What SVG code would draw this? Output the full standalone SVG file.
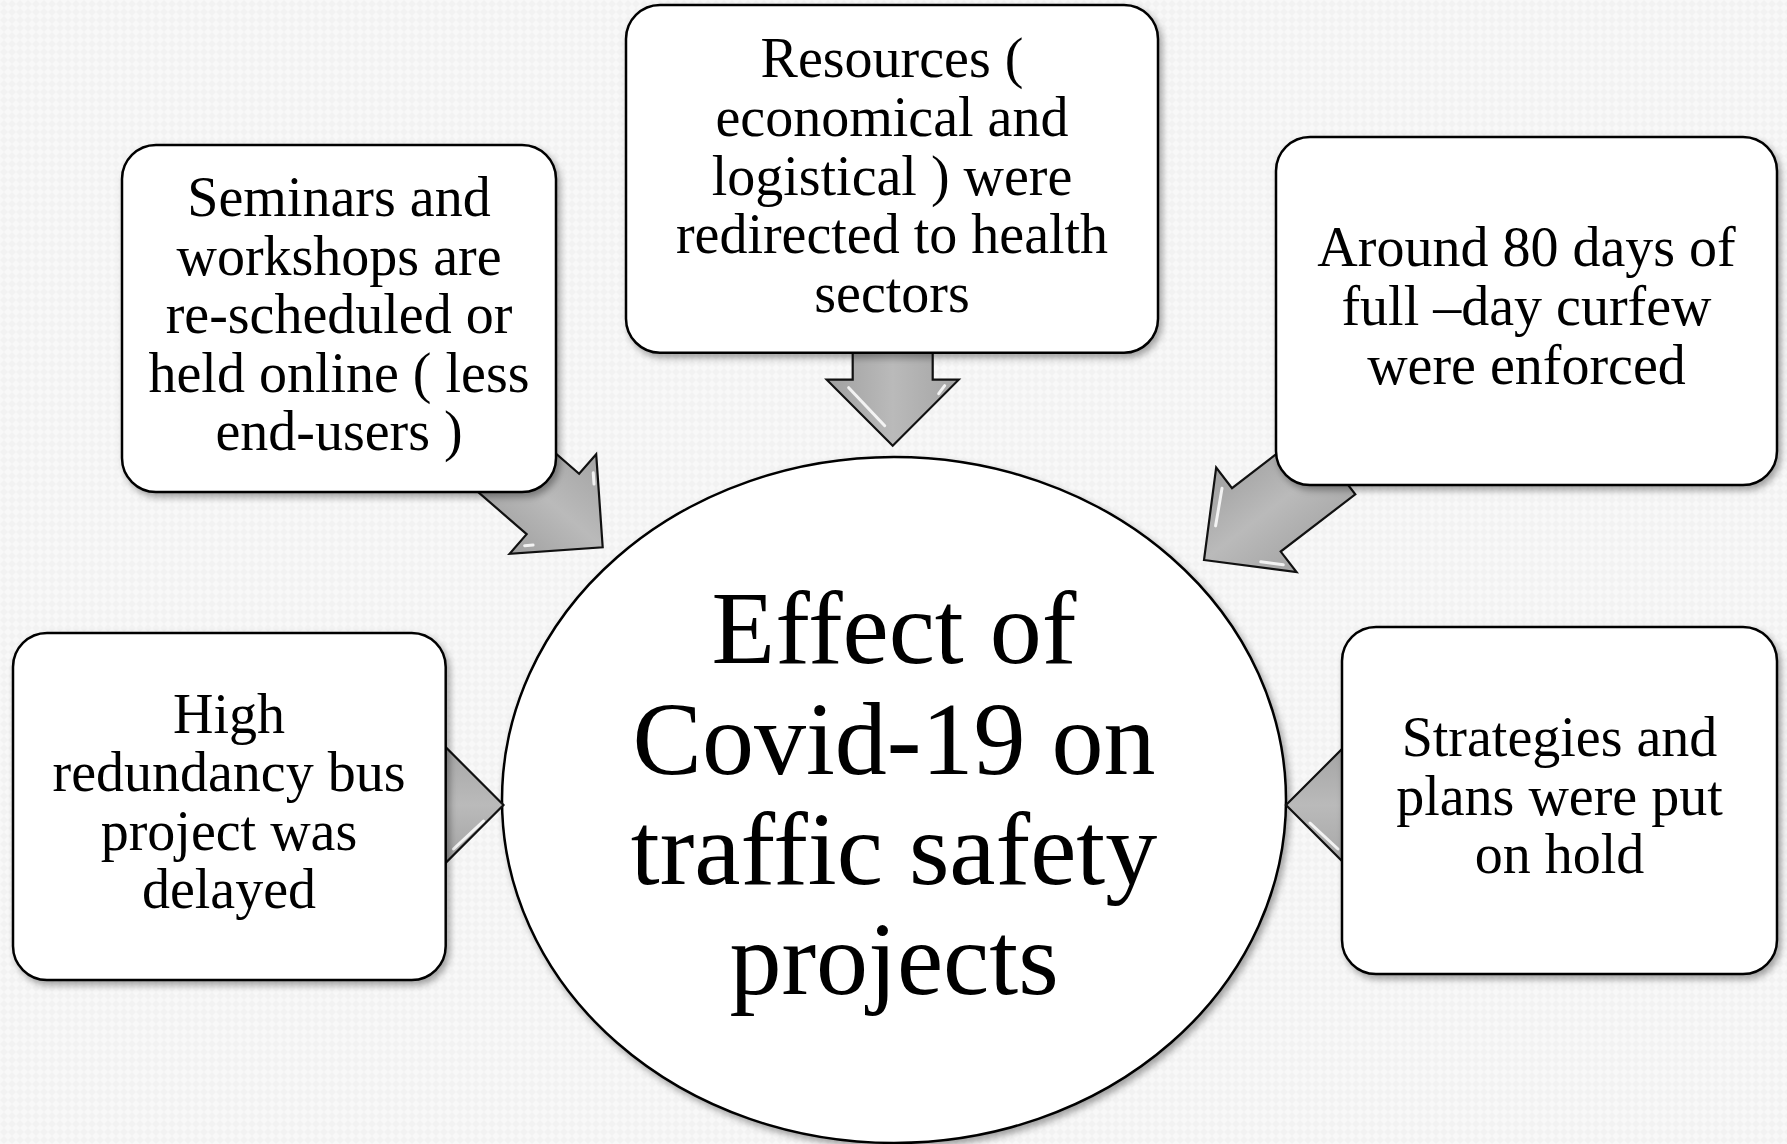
<svg xmlns="http://www.w3.org/2000/svg" width="1787" height="1144" viewBox="0 0 1787 1144">
  <defs>
    <pattern id="bgtex" width="8" height="8" patternUnits="userSpaceOnUse">
      <rect width="8" height="8" fill="#f8f8f8"/>
      <path d="M0,4 L4,0 L8,4 L4,8 Z" fill="#f2f2f2"/>
    </pattern>
    <filter id="shadow" x="-10%" y="-10%" width="125%" height="125%">
      <feDropShadow dx="3" dy="4" stdDeviation="3.5" flood-color="#000" flood-opacity="0.35"/>
    </filter>
    <linearGradient id="arrowGrad" gradientUnits="userSpaceOnUse" x1="0" y1="-66" x2="0" y2="66">
      <stop offset="0" stop-color="#a4a4a4"/>
      <stop offset="0.5" stop-color="#bababa"/>
      <stop offset="1" stop-color="#a0a0a0"/>
    </linearGradient>
    <path id="arrowShape" d="M0,0 L-66,-66 L-66,-40 L-160,-40 L-160,40 L-66,40 L-66,66 Z"/>
  </defs>
  <style>
    .box { fill: #ffffff; stroke: #000000; stroke-width: 2.5; }
    .hub { fill: #ffffff; stroke: #000000; stroke-width: 2.5; }
    .arrow { fill: url(#arrowGrad); stroke: #111111; stroke-width: 2.2; stroke-linejoin: miter; }
    .hl { fill: none; stroke: #ffffff; stroke-width: 3; stroke-opacity: 0.85; stroke-linecap: round; }
    .lbl { font-family: "Liberation Serif", "DejaVu Serif", serif; font-size: 56px; fill: #000000; text-anchor: middle; }
    .hubtxt { font-family: "Liberation Serif", "DejaVu Serif", serif; font-size: 104px; fill: #000000; text-anchor: middle; }
  </style>

  <rect x="0" y="0" width="1787" height="1144" fill="url(#bgtex)"/>

  <g id="hub" filter="url(#shadow)">
    <ellipse class="hub" cx="894" cy="800" rx="392" ry="343"/>
    <text class="hubtxt" x="894" y="663">Effect of</text>
    <text class="hubtxt" x="894" y="774">Covid-19 on</text>
    <text class="hubtxt" x="894" y="884">traffic safety</text>
    <text class="hubtxt" x="894" y="994">projects</text>
  </g>

  <g id="connectors">
    <g transform="translate(892.7,445.7) rotate(90)">
      <use href="#arrowShape" class="arrow"/>
      <path class="hl" d="M-58,44 L-20,8"/>
      <path class="hl" d="M-60,-52 L-52,-46"/>
    </g>
    <g transform="translate(602.7,547.3) rotate(41)">
      <use href="#arrowShape" class="arrow"/>
      <path class="hl" d="M-56,-50 L-48,-42"/>
      <path class="hl" d="M-60,50 L-54,44"/>
    </g>
    <g transform="translate(1204,560) rotate(142.5)">
      <use href="#arrowShape" class="arrow"/>
      <path class="hl" d="M-60,-52 L-44,-36"/>
      <path class="hl" d="M-58,46 L-30,20"/>
    </g>
    <g transform="translate(503.5,805) rotate(0)">
      <use href="#arrowShape" class="arrow"/>
      <path class="hl" d="M-50,44 L-20,16"/>
    </g>
    <g transform="translate(1286,805) rotate(180)">
      <use href="#arrowShape" class="arrow"/>
      <path class="hl" d="M-52,-44 L-24,-18"/>
    </g>
  </g>

  <g id="node-seminars" filter="url(#shadow)">
    <rect class="box" x="122" y="145" width="434" height="347" rx="34" ry="34"/>
    <text class="lbl" x="339" y="216">Seminars and</text>
    <text class="lbl" x="339" y="274.5">workshops are</text>
    <text class="lbl" x="339" y="333">re-scheduled or</text>
    <text class="lbl" x="339" y="391.5">held online ( less</text>
    <text class="lbl" x="339" y="450">end-users )</text>
  </g>

  <g id="node-resources" filter="url(#shadow)">
    <rect class="box" x="626" y="5" width="532" height="347.7" rx="34" ry="34"/>
    <text class="lbl" x="892" y="77">Resources (</text>
    <text class="lbl" x="892" y="136">economical and</text>
    <text class="lbl" x="892" y="194.5">logistical ) were</text>
    <text class="lbl" x="892" y="253">redirected to health</text>
    <text class="lbl" x="892" y="311.5">sectors</text>
  </g>

  <g id="node-curfew" filter="url(#shadow)">
    <rect class="box" x="1276" y="137" width="501" height="348" rx="34" ry="34"/>
    <text class="lbl" x="1526.5" y="266">Around 80 days of</text>
    <text class="lbl" x="1526.5" y="325">full –day curfew</text>
    <text class="lbl" x="1526.5" y="384">were enforced</text>
  </g>

  <g id="node-bus" filter="url(#shadow)">
    <rect class="box" x="13" y="633" width="432.7" height="347" rx="34" ry="34"/>
    <text class="lbl" x="229" y="732.5">High</text>
    <text class="lbl" x="229" y="791">redundancy bus</text>
    <text class="lbl" x="229" y="849.5">project was</text>
    <text class="lbl" x="229" y="908">delayed</text>
  </g>

  <g id="node-strategies" filter="url(#shadow)">
    <rect class="box" x="1342" y="627" width="435" height="347" rx="34" ry="34"/>
    <text class="lbl" x="1559.5" y="756">Strategies and</text>
    <text class="lbl" x="1559.5" y="814.5">plans were put</text>
    <text class="lbl" x="1559.5" y="873">on hold</text>
  </g>
</svg>
